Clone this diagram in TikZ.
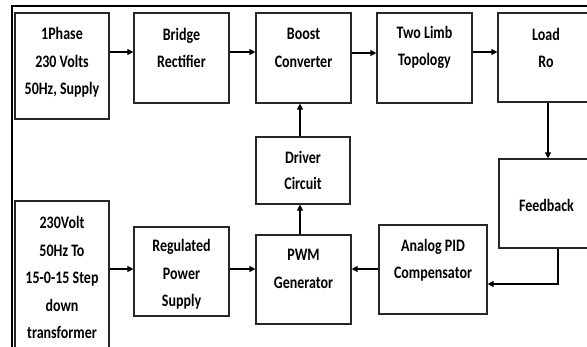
\documentclass[tikz,border=0pt]{standalone}
\usepackage{fontspec}
\setmainfont{Carlito}[FakeStretch=0.8]
\usetikzlibrary{arrows.meta}
\begin{document}
\begin{tikzpicture}[x=1pt,y=-1pt,
  blk/.style={draw=black!85,line width=1.2pt},
  txt/.style={align=center,font=\fontsize{17.5}{27.5}\selectfont\bfseries,inner sep=0pt},
  arr/.style={draw=black,line width=1.2pt,-{Triangle[length=6pt,width=6pt]}},
  frame/.style={draw=black,line width=2pt}]
\useasboundingbox (0,0) rectangle (587,347);
\clip (0,0) rectangle (587,347);
% outer frame
\draw[frame] (12,347) -- (12,6) -- (590,6);
% boxes
\node[blk,minimum width=94pt,minimum height=106pt] (b1) at (62,66) {};
\node[blk,minimum width=95pt,minimum height=90pt] (b2) at (181.5,58) {};
\node[blk,minimum width=95pt,minimum height=90pt] (b3) at (303.5,58) {};
\node[blk,minimum width=95pt,minimum height=90pt] (b4) at (424.5,58) {};
\node[blk,minimum width=96pt,minimum height=89pt] (b5) at (546,57.5) {};
\node[blk,minimum width=95pt,minimum height=89pt] (fb) at (546.5,203.5) {};
\node[blk,minimum width=108pt,minimum height=89pt] (pid) at (433,269.5) {};
\node[blk,minimum width=95pt,minimum height=89pt] (pwm) at (303.5,279.5) {};
\node[blk,minimum width=94pt,minimum height=67pt] (drv) at (303,170.5) {};
\node[blk,minimum width=95pt,minimum height=89pt] (rps) at (181.5,271.5) {};
\node[blk,minimum width=94pt,minimum height=170pt] (tr) at (62,286) {};
% texts
\node[txt] (t1) at (62,62.5) {1Phase\\230 Volts\\50Hz, Supply};
\node[txt] (t2) at (181.5,48) {Bridge\\Rectifier};
\node[txt] (t3) at (303.5,48) {Boost\\Converter};
\node[txt] (t4) at (424.5,47.5) {Two Limb\\Topology};
\node[txt] (t5) at (546,48) {Load\\Ro};
\node[txt] (t6) at (546.5,205) {Feedback};
\node[txt] (t7) at (433,260) {Analog PID\\Compensator};
\node[txt] (t8) at (303.5,269) {PWM\\Generator};
\node[txt,font=\fontsize{17.5}{26}\selectfont\bfseries] (t9) at (303,170) {Driver\\Circuit};
\node[txt] (t10) at (181.5,274.5) {Regulated\\Power\\Supply};
\node[txt] (t11) at (62,277.5) {230Volt\\50Hz To\\15-0-15 Step\\down\\transformer};
% connectors
\draw[arr] (b1.east |- 0,52) -- (b2.west |- 0,52);
\draw[arr] (b2.east |- 0,52) -- (b3.west |- 0,52);
\draw[arr] (b3.east |- 0,53) -- (b4.west |- 0,53);
\draw[arr] (b4.east |- 0,52) -- (b5.west |- 0,52);
\draw[arr] (b5.south -| 548,0) -- (fb.north -| 548,0);
\draw[arr] (fb.south -| 558,0) -- (558,284) -- (pid.east |- 0,284);
\draw[arr] (pid.west |- 0,269) -- (pwm.east |- 0,269);
\draw[arr] (tr.east |- 0,269) -- (rps.west |- 0,269);
\draw[arr] (rps.east |- 0,269) -- (pwm.west |- 0,269);
\draw[arr] (pwm.north -| 300,0) -- (drv.south -| 300,0);
\draw[arr] (drv.north -| 300,0) -- (b3.south -| 300,0);
\end{tikzpicture}
\end{document}
